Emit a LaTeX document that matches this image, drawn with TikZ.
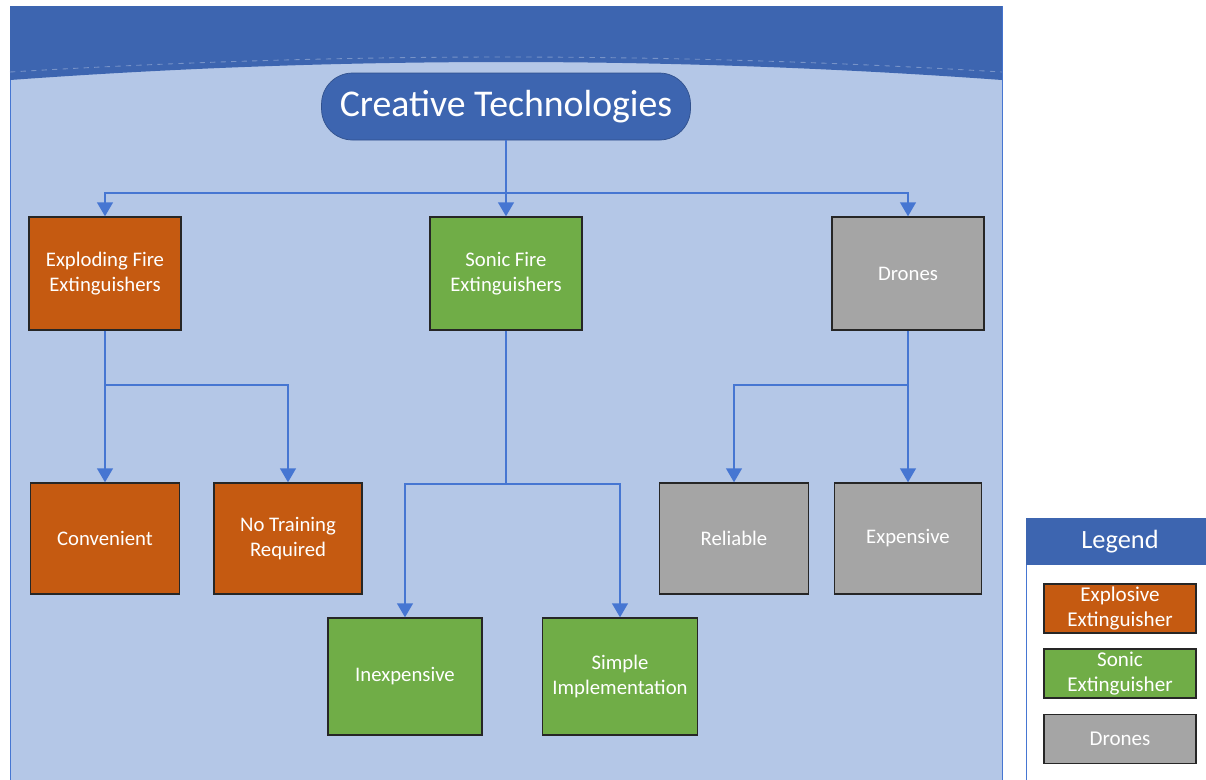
\documentclass[tikz,border=0pt]{standalone}
\usepackage{fontspec}
\setmainfont{Carlito}
\usetikzlibrary{arrows.meta}
\definecolor{headblue}{HTML}{3D65B0}
\definecolor{panelblue}{HTML}{B4C7E7}
\definecolor{lineblue}{HTML}{4676D2}
\definecolor{explorange}{HTML}{C55A11}
\definecolor{sonicgreen}{HTML}{70AD47}
\definecolor{dronegray}{HTML}{A5A5A5}

\begin{document}
\begin{tikzpicture}[x=0.02cm,y=-0.02cm,
        box/.style={draw=black!85,line width=0.8pt,text=white,align=center,
            font=\fontsize{11.8}{14.5}\selectfont},
        conn/.style={draw=lineblue,line width=1.2pt,-{Triangle[width=9pt,length=8pt]}}]
        \useasboundingbox (0,0) rectangle (1206,779);
        \clip (0,0) rectangle (1206,779);
        %% background panel
        \draw[lineblue,fill=panelblue] (10,6) rectangle (1002,800);
        \fill[headblue] (10,6) -- (1002,6) -- (1002,80) .. controls (672,56) and (340,56) .. (10,80) -- cycle;
        \draw[headblue!70!white,dashed,line width=0.5pt] (10,72) .. controls (340,52) and (672,52) .. (1002,72);

        %% root
        \node[draw=headblue!80!black,fill=headblue,rounded corners=0.62cm,
            minimum width=7.38cm,minimum height=1.34cm,text=white,
            font=\fontsize{21.5}{24}\selectfont] (root) at (506,106.5) {Creative Technologies};

        %% first level
        \node[box,fill=explorange,minimum width=3.04cm,minimum height=2.26cm] (expl) at (105,273.5) {Exploding Fire\\Extinguishers};
        \node[box,fill=sonicgreen,minimum width=3.04cm,minimum height=2.26cm] (sonic) at (506,273.5) {Sonic Fire\\Extinguishers};
        \node[box,fill=dronegray,minimum width=3.04cm,minimum height=2.26cm] (drones) at (908,273.5) {Drones};

        %% second level
        \node[box,fill=explorange,minimum width=2.98cm,minimum height=2.22cm] (conv) at (105,538.5) {Convenient};
        \node[box,fill=explorange,minimum width=2.96cm,minimum height=2.22cm] (notrain) at (288,538.5) {No Training\\Required};
        \node[box,fill=dronegray,minimum width=2.98cm,minimum height=2.22cm] (reliable) at (734,538.5) {Reliable};
        \node[box,fill=dronegray,minimum width=2.94cm,minimum height=2.22cm] (expens) at (908,538.5) {Expensive};
        \node[box,fill=sonicgreen,minimum width=3.08cm,minimum height=2.34cm] (inexp) at (405,676.5) {Inexpensive};
        \node[box,fill=sonicgreen,minimum width=3.1cm,minimum height=2.34cm] (simple) at (620,676.5) {Simple\\Implementation};

        %% connectors
        \coordinate (hubroot) at (506,193);
        \coordinate (hubexpl) at (105,385);
        \coordinate (hubsonic) at (506,484);
        \coordinate (hubdrones) at (908,385);
        \draw[line width=1.2pt,lineblue] (root) -- (hubroot);
        \foreach \n in {expl,sonic,drones}{
            \draw[conn] (hubroot) -| (\n);
        }
        \draw[conn] (expl) -- (conv);
        \draw[conn] (hubexpl) -| (notrain);
        \draw[line width=1.2pt,lineblue] (sonic) -- (hubsonic);
        \draw[conn] (hubsonic) -| (inexp);
        \draw[conn] (hubsonic) -| (simple);
        \draw[conn] (drones) -- (expens);
        \draw[conn] (hubdrones) -| (reliable);

        % Legend
        \draw[lineblue,fill=white] (1026,518) rectangle (1220,800);
        \fill[headblue] (1026,518) rectangle (1220,565);
        \node[text=white,font=\fontsize{15}{18}\selectfont] (legend) at (1120,541.5) {Legend};
        \foreach \y/\c/\t in {608.5/explorange/{Explosive\\Extinguisher},673.5/sonicgreen/{Sonic\\Extinguisher},739/dronegray/{Drones}}{
            \node[box,fill=\c,minimum width=3.04cm,minimum height=0.98cm,inner sep=1pt,
                font=\fontsize{12}{14.6}\selectfont] (leg\c) at (1120,\y) {\t};
        }
    \end{tikzpicture}
\end{document}
